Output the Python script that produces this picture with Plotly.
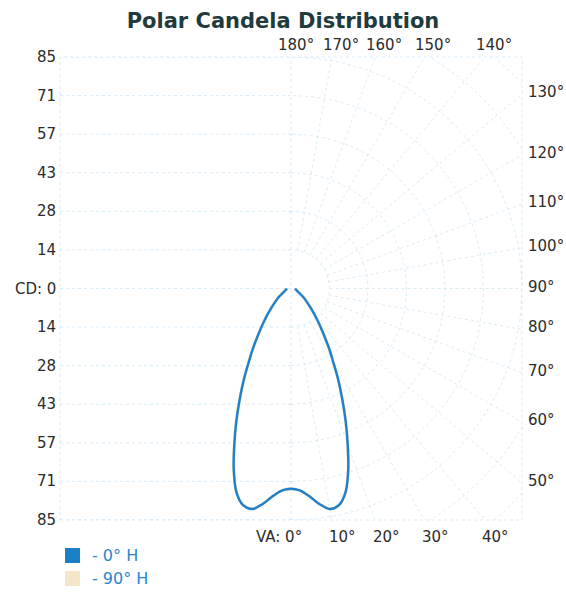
import numpy as np
import plotly.graph_objects as go

# Vertical angles (degrees from nadir) and luminous intensity (cd)
vertical_angles = [0, 2.5, 5, 7.5, 10, 12.5, 15, 17.5, 20, 22.5, 25, 27.5, 30,
                   32.5, 35, 40, 45, 50, 55, 60, 65, 70, 75, 80, 85, 90]
candela_0h = [73.5, 74.2, 76.5, 79.8, 82.2, 81.5, 77.5, 70.0, 61.0, 52.5, 44.5,
              37.5, 31.0, 26.0, 21.5, 15.0, 10.5, 7.5, 5.5, 3.8, 2.9, 2.3, 2.0,
              1.8, 1.6, 1.5]
# The 90° H plane coincides with the 0° H plane for this symmetric fixture
candela_90h = list(candela_0h)

cd_max = 85
cd_tick_labels = ["85", "71", "57", "43", "28", "14", "CD: 0", "14", "28", "43",
                  "57", "71", "85"]
bottom_angle_labels = ["VA: 0°", "10°", "20°", "30°", "40°"]
right_lower_labels = ["50°", "60°", "70°", "80°", "90°"]
right_upper_labels = ["100°", "110°", "120°", "130°"]
top_angle_labels = ["140°", "150°", "160°", "170°", "180°"]
legend_labels = ["- 0° H", "- 90° H"]

W, H = 566, 593
BOX_L, BOX_R, BOX_T, BOX_B = 60, 522, 57, 520
GRID = "rgba(175,210,235,0.45)"
LABEL = "#2b2b2b"
FONT = "DejaVu Sans"
step = cd_max / 6

fig = go.Figure()


def add_line(xs, ys):
    fig.add_trace(go.Scatter(x=xs, y=ys, mode="lines", hoverinfo="skip",
                             showlegend=False,
                             line=dict(color=GRID, width=1, dash="dot")))


# Left half: horizontal candela lines
for k in range(-6, 7):
    add_line([-cd_max, 0], [k * step, k * step])
# Vertical centre line
add_line([0, 0], [-cd_max, cd_max])
# Right half: concentric arcs
t = np.radians(np.linspace(0, 180, 181))
for k in range(1, 9):
    r = k * step
    add_line(r * np.sin(t), -r * np.cos(t))
# Right half: radial lines every 10°
for a in range(10, 180, 10):
    ar = np.radians(a)
    add_line([step * np.sin(ar), 200 * np.sin(ar)],
             [-step * np.cos(ar), -200 * np.cos(ar)])


def polar_curve(angles, values):
    ang = np.radians(np.array(angles, dtype=float))
    val = np.array(values, dtype=float)
    xr, yr = val * np.sin(ang), -val * np.cos(ang)
    xs = np.concatenate([-xr[::-1], xr[1:]])
    ys = np.concatenate([yr[::-1], yr[1:]])
    return xs, ys


x90, y90 = polar_curve(vertical_angles, candela_90h)
fig.add_trace(go.Scatter(x=x90, y=y90, mode="lines", showlegend=False,
                         line=dict(color="#f3e2bd", width=3, shape="spline")))
x0, y0 = polar_curve(vertical_angles, candela_0h)
fig.add_trace(go.Scatter(x=x0, y=y0, mode="lines", showlegend=False,
                         line=dict(color="#1f80cc", width=2.4, shape="spline")))

# Frame
fig.add_shape(type="rect", xref="paper", yref="paper",
              x0=BOX_L / W, x1=BOX_R / W, y0=1 - BOX_B / H, y1=1 - BOX_T / H,
              line=dict(color=GRID, width=1, dash="dot"))

ann = []
tick_font = dict(family=FONT, size=15, color=LABEL)
# Candela labels on the left
for i, lab in enumerate(cd_tick_labels):
    yv = cd_max - i * step
    ann.append(dict(x=-cd_max, y=yv, xref="x", yref="y", text=lab,
                    xanchor="right", yanchor="middle", xshift=-2,
                    showarrow=False, font=tick_font))
# Angle labels along the bottom edge
for i, lab in enumerate(bottom_angle_labels):
    a = np.radians(10 * i)
    xv = cd_max * np.tan(a)
    shift = 11 if i else -12
    ann.append(dict(x=xv, y=-cd_max, xref="x", yref="y", text=lab,
                    xanchor="center", yanchor="top", xshift=shift, yshift=-6,
                    showarrow=False, font=tick_font))
# Angle labels along the right edge (lower half)
for i, lab in enumerate(right_lower_labels):
    a = np.radians(50 + 10 * i)
    yv = -cd_max / np.tan(a)
    ann.append(dict(x=cd_max, y=yv, xref="x", yref="y", text=lab,
                    xanchor="left", yanchor="middle", xshift=4, yshift=2,
                    showarrow=False, font=tick_font))
# Angle labels along the right edge (upper half)
for i, lab in enumerate(right_upper_labels):
    a = np.radians(180 - (100 + 10 * i))
    yv = cd_max / np.tan(a)
    ann.append(dict(x=cd_max, y=yv, xref="x", yref="y", text=lab,
                    xanchor="left", yanchor="middle", xshift=4, yshift=2,
                    showarrow=False, font=tick_font))
# Angle labels along the top edge
for i, lab in enumerate(top_angle_labels):
    a = np.radians(180 - (140 + 10 * i))
    xv = cd_max * np.tan(a)
    shift = 9 if i < 4 else 5
    ann.append(dict(x=xv, y=cd_max, xref="x", yref="y", text=lab,
                    xanchor="center", yanchor="bottom", xshift=shift, yshift=1,
                    showarrow=False, font=tick_font))

# Legend
legend_colors = ["#1a7fc4", "#f4e6c6"]
for i, (lab, col) in enumerate(zip(legend_labels, legend_colors)):
    yc = 555 + 23 * i
    fig.add_shape(type="rect", xref="paper", yref="paper",
                  x0=65 / W, x1=80 / W, y0=1 - (yc + 8) / H, y1=1 - (yc - 7) / H,
                  line=dict(width=0), fillcolor=col)
    ann.append(dict(x=90 / W, y=1 - yc / H, xref="paper", yref="paper",
                    text=lab, xanchor="left", yanchor="middle",
                    showarrow=False,
                    font=dict(family=FONT, size=16, color="#2a86cc")))

fig.update_layout(
    width=W, height=H,
    margin=dict(l=0, r=0, t=0, b=0),
    paper_bgcolor="white", plot_bgcolor="white",
    title=dict(text="<b>Polar Candela Distribution</b>", x=0.5, xanchor="center",
               y=1 - 21 / H, yanchor="middle",
               font=dict(family=FONT, size=21, color="#1f3b3e")),
    xaxis=dict(domain=[BOX_L / W, BOX_R / W], range=[-cd_max, cd_max],
               visible=False, fixedrange=True),
    yaxis=dict(domain=[1 - BOX_B / H, 1 - BOX_T / H], range=[-cd_max, cd_max],
               visible=False, fixedrange=True),
    annotations=ann,
    showlegend=False,
)

fig.write_html("out.html")
